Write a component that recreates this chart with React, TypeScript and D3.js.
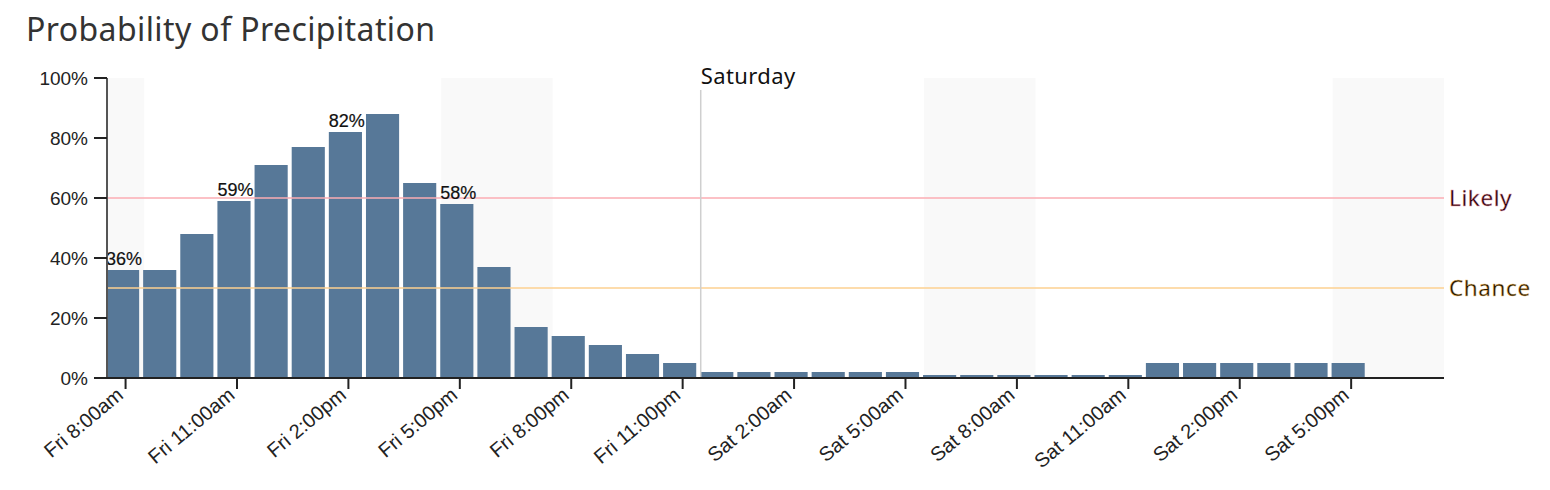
import React from "react";
import * as d3 from "d3";

const times = [
  "2021-01-01T08:00", "2021-01-01T09:00", "2021-01-01T10:00", "2021-01-01T11:00",
  "2021-01-01T12:00", "2021-01-01T13:00", "2021-01-01T14:00", "2021-01-01T15:00",
  "2021-01-01T16:00", "2021-01-01T17:00", "2021-01-01T18:00", "2021-01-01T19:00",
  "2021-01-01T20:00", "2021-01-01T21:00", "2021-01-01T22:00", "2021-01-01T23:00",
  "2021-01-02T00:00", "2021-01-02T01:00", "2021-01-02T02:00", "2021-01-02T03:00",
  "2021-01-02T04:00", "2021-01-02T05:00", "2021-01-02T06:00", "2021-01-02T07:00",
  "2021-01-02T08:00", "2021-01-02T09:00", "2021-01-02T10:00", "2021-01-02T11:00",
  "2021-01-02T12:00", "2021-01-02T13:00", "2021-01-02T14:00", "2021-01-02T15:00",
  "2021-01-02T16:00", "2021-01-02T17:00",
];
const pop = [
  36, 36, 48, 59, 71, 77, 82, 88, 65, 58, 37, 17, 14, 11, 8, 5,
  2, 2, 2, 2, 2, 2, 1, 1, 1, 1, 1, 1, 5, 5, 5, 5, 5, 5,
];
const labeledIdx = [0, 3, 6, 9];
const tickTimes = [
  "2021-01-01T08:00", "2021-01-01T11:00", "2021-01-01T14:00", "2021-01-01T17:00",
  "2021-01-01T20:00", "2021-01-01T23:00", "2021-01-02T02:00", "2021-01-02T05:00",
  "2021-01-02T08:00", "2021-01-02T11:00", "2021-01-02T14:00", "2021-01-02T17:00",
];
const tickLabels = [
  "Fri 8:00am", "Fri 11:00am", "Fri 2:00pm", "Fri 5:00pm", "Fri 8:00pm", "Fri 11:00pm",
  "Sat 2:00am", "Sat 5:00am", "Sat 8:00am", "Sat 11:00am", "Sat 2:00pm", "Sat 5:00pm",
];
const shadeBands = [
  ["2021-01-01T07:30", "2021-01-01T08:30"],
  ["2021-01-01T16:30", "2021-01-01T19:30"],
  ["2021-01-02T05:30", "2021-01-02T08:30"],
  ["2021-01-02T16:30", "2021-01-02T19:30"],
];
const domainTimes = ["2021-01-01T07:30", "2021-01-02T19:30"];
const dayStart = "2021-01-02T00:00";
const dayLabel = "Saturday";
const thresholds = [
  { name: "Likely", value: 60, line: "#fbadb3", fill: "#22000a", halo: "#f3a0a8" },
  { name: "Chance", value: 30, line: "#fcd091", fill: "#1e1400", halo: "#f5c470" },
];
const yTicks = [0, 20, 40, 60, 80, 100];
const title = "Probability of Precipitation";

const P = (s: string) => new Date(s);

export default function App() {
  const W = 1550, H = 490;
  const left = 107, right = 1444, top = 78, bottom = 378;
  const x = d3.scaleTime().domain(domainTimes.map(P)).range([left, right]);
  const y = d3.scaleLinear().domain([0, 100]).range([bottom, top]);
  const hour = 3600 * 1000;
  const step = x(new Date(P(times[0]).getTime() + hour)) - x(P(times[0]));
  const barX = (t: string) => x(new Date(P(t).getTime() - hour / 2)) - 1;
  const barW = step - 4;
  const axisFont = "'Liberation Sans', Arial, Helvetica, sans-serif";
  const roundFont = "'Noto Sans', 'Open Sans', sans-serif";
  const satX = x(new Date(P(dayStart).getTime() - hour / 2)) - 0.5;

  return (
    <svg width={W} height={H} style={{ display: "block", position: "absolute", left: 0, top: 0 }}>
      <rect width={W} height={H} fill="#fff" />
      <text x={26} y={41} fontFamily={roundFont} fontSize={32} letterSpacing={0.4} fill="#333">{title}</text>

      {shadeBands.map(([a, b], i) => (
        <rect key={i} x={x(P(a))} y={top} width={x(P(b)) - x(P(a))} height={bottom - top} fill="#f9f9f9" />
      ))}

      {times.map((t, i) => (
        <rect key={t} x={barX(t)} y={y(pop[i])} width={barW} height={bottom - y(pop[i])} fill="#577898" />
      ))}

      {thresholds.map((th) => (
        <g key={th.name}>
          <line x1={left} x2={right} y1={y(th.value)} y2={y(th.value)} stroke={th.line} strokeWidth={1.5} />
          <text x={right + 5} y={y(th.value)} dy="0.36em" fontFamily={roundFont} fontSize={22.5} letterSpacing={0.6}
            fill={th.fill} stroke={th.halo} strokeWidth={0.4}>{th.name}</text>
        </g>
      ))}

      <line x1={satX} x2={satX} y1={90} y2={bottom} stroke="#cfcfcf" strokeWidth={1.5} />
      <text x={satX} y={84} fontFamily={roundFont} fontSize={22} letterSpacing={0.4} fill="#111">{dayLabel}</text>

      {labeledIdx.map((i) => (
        <text key={i} x={barX(times[i])} y={y(pop[i]) - 5} fontFamily={axisFont} fontSize={18} fill="#111"
          stroke="#111" strokeWidth={0.2}>
          {pop[i]}%
        </text>
      ))}

      {/* y axis */}
      <line x1={left} x2={left} y1={top} y2={bottom} stroke="#555" strokeWidth={2} />
      {yTicks.map((v) => (
        <g key={v} transform={`translate(0,${y(v)})`}>
          <line x1={left - 13} x2={left} stroke="#222" strokeWidth={2} />
          <text x={left - 19} dy="0.35em" textAnchor="end" fontFamily={axisFont} fontSize={19} fill="#222">{v}%</text>
        </g>
      ))}

      {/* x axis */}
      <line x1={left - 13} x2={right} y1={bottom} y2={bottom} stroke="#222" strokeWidth={2} />
      {tickTimes.map((t, i) => (
        <g key={t} transform={`translate(${x(P(t))},${bottom})`}>
          <line y1={0} y2={11} stroke="#222" strokeWidth={2} />
          <text transform="translate(-1,19) rotate(-40)" textAnchor="end" fontFamily={axisFont}
            fontSize={20} fill="#222">{tickLabels[i]}</text>
        </g>
      ))}
    </svg>
  );
}
